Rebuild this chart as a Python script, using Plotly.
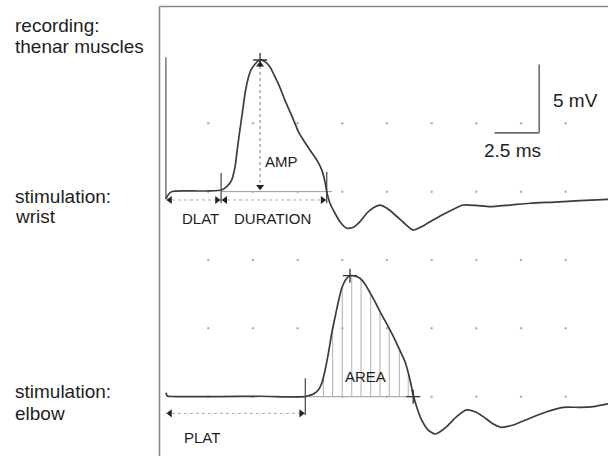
import numpy as np
import plotly.graph_objects as go

# ---------------- data (ms / mV) ----------------
grid_x_ms = [2.5, 5.0, 7.5, 10.0, 12.5, 15.0, 17.5, 20.0, 22.5]
grid_y_mV = [0, 5, 10, 15, 20]

WRIST_OFFSET = 15.0   # vertical display offset of wrist trace (mV)
ELBOW_OFFSET = 0.0

# stimulation at wrist (relative to its baseline)
wrist_ms = [0.13, 0.25, 0.47, 1.48, 2.60, 3.25, 3.53, 3.81, 4.00, 4.12,
            4.27, 4.43, 4.56, 4.71, 4.89, 5.12, 5.40, 5.67, 5.95, 6.23,
            6.51, 6.79, 7.07, 7.35, 7.54, 7.82, 8.19, 8.57, 8.85, 9.03,
            9.13, 9.31, 9.59, 9.87, 10.25, 10.62, 10.99, 11.37, 11.72, 12.11,
            12.48, 12.85, 13.40, 13.97, 14.52, 15.09, 15.91, 16.77, 17.48, 18.27,
            19.38, 20.50, 21.90, 23.30, 24.87]
wrist_mV = [-0.54, -0.24, 0.01, 0.05, 0.05, 0.12, 0.36, 0.85, 1.83, 3.05,
            4.51, 5.98, 7.19, 8.17, 8.90, 9.34, 9.63, 9.51, 9.14, 8.41,
            7.63, 6.70, 5.85, 5.00, 4.39, 3.78, 3.05, 2.32, 1.59, 0.73,
            0.00, -0.85, -1.58, -2.20, -2.68, -2.61, -2.20, -1.58, -1.20, -0.98,
            -1.20, -1.58, -2.22, -2.81, -2.51, -2.07, -1.49, -0.98, -1.01, -1.10,
            -0.98, -0.85, -0.76, -0.66, -0.56]
artifact_ms = [0.13, 0.13]
artifact_mV = [9.83, -0.54]

# stimulation at elbow
elbow_ms = [0.13, 0.21, 0.64, 3.16, 5.39, 7.07, 7.91, 8.10, 8.38, 8.66,
            8.85, 9.04, 9.22, 9.41, 9.60, 9.78, 9.97, 10.21, 10.43, 10.71,
            10.99, 11.27, 11.55, 11.83, 12.11, 12.39, 12.67, 12.95, 13.23, 13.51,
            13.75, 13.97, 14.16, 14.44, 14.81, 15.19, 15.47, 15.84, 16.40, 16.96,
            17.43, 17.89, 18.45, 18.92, 19.57, 20.50, 21.44, 22.37, 23.30, 24.05,
            24.87]
elbow_mV = [0.29, 0.05, 0.01, 0.01, 0.03, -0.02, 0.00, 0.07, 0.20, 0.49,
            0.98, 1.95, 3.17, 4.64, 5.85, 6.95, 7.93, 8.59, 8.85, 8.83,
            8.66, 8.24, 7.61, 6.95, 6.22, 5.56, 4.88, 4.15, 3.37, 2.56,
            1.46, 0.12, -0.73, -1.70, -2.44, -2.73, -2.56, -2.19, -1.46, -0.97,
            -1.10, -1.46, -2.00, -2.24, -2.07, -1.58, -1.10, -0.78, -0.78, -0.73,
            -0.53]

# measurements
stim_ms = 0.13
dlat_ms = 3.22
wrist_peak = (5.40, 9.63)
wrist_end_ms = 9.13
plat_ms = 7.93
elbow_peak = (10.43, 8.85)
elbow_end_ms = 13.97
area_hatch_ms = [8.94, 9.46, 10.00, 10.53, 11.05, 11.59, 12.11, 12.63, 13.19, 13.69]

scale_ms = 2.5
scale_mV = 5.0

# ---------------- figure ----------------
TRACE = "#3c3c3c"
FRAME = "#8a8a8a"
GUIDE = "#a8a8a8"
TXT = "#1e1e1e"
FONT = "Liberation Sans, Arial, sans-serif"

fig = go.Figure()

# dot grid
gx, gy = np.meshgrid(grid_x_ms, grid_y_mV)
fig.add_trace(go.Scatter(x=gx.ravel(), y=gy.ravel(), mode="markers",
                         marker=dict(size=2.5, color="#b4b4b4"), hoverinfo="skip"))

# area hatching (elbow)
hx, hy = [], []
for xv in area_hatch_ms:
    top = float(np.interp(xv, elbow_ms, elbow_mV))
    hx += [xv, xv, None]
    hy += [ELBOW_OFFSET, ELBOW_OFFSET + top, None]
fig.add_trace(go.Scatter(x=hx, y=hy, mode="lines",
                         line=dict(color="#b0b0b0", width=1), hoverinfo="skip"))

shapes = []
def seg(x0, y0, x1, y1, color=GUIDE, width=1, dash="solid"):
    shapes.append(dict(type="line", xref="x", yref="y", x0=x0, y0=y0, x1=x1, y1=y1,
                       line=dict(color=color, width=width, dash=dash), layer="below"))

# frame (top and left borders)
seg(-0.23, 28.54, 26, 28.54, FRAME, 1.6)
seg(-0.23, 28.54, -0.23, -5, FRAME, 1.6)

# baselines under the measured potentials
seg(dlat_ms, WRIST_OFFSET, wrist_end_ms + 0.3, WRIST_OFFSET, "#9a9a9a", 1)
seg(plat_ms, ELBOW_OFFSET, elbow_end_ms + 0.25, ELBOW_OFFSET, "#9a9a9a", 1)

# dotted measurement guides
arr_w = WRIST_OFFSET - 0.61
arr_e = ELBOW_OFFSET - 1.22
seg(stim_ms, arr_w, dlat_ms, arr_w, GUIDE, 1, "dot")
seg(dlat_ms, arr_w, wrist_end_ms, arr_w, GUIDE, 1, "dot")
seg(wrist_peak[0], WRIST_OFFSET + wrist_peak[1], wrist_peak[0], WRIST_OFFSET, "#7a7a7a", 1, "dot")
seg(stim_ms, arr_e, plat_ms, arr_e, GUIDE, 1, "dot")

# latency / end markers
seg(dlat_ms, WRIST_OFFSET + 1.37, dlat_ms, WRIST_OFFSET - 0.83, "#444", 1.2)
seg(wrist_end_ms, WRIST_OFFSET + 1.46, wrist_end_ms, WRIST_OFFSET - 0.85, "#444", 1.2)
seg(plat_ms, ELBOW_OFFSET + 1.35, plat_ms, ELBOW_OFFSET - 1.34, "#444", 1.2)

# scale bar
sb_x, sb_y = 21.02, 19.3
seg(sb_x, sb_y, sb_x, sb_y + scale_mV, "#6e6e6e", 1.6)
seg(sb_x - scale_ms, sb_y, sb_x, sb_y, "#6e6e6e", 1.6)

# traces
fig.add_trace(go.Scatter(x=artifact_ms, y=[v + WRIST_OFFSET for v in artifact_mV],
                         mode="lines", line=dict(color="#6a6a6a", width=1.4), hoverinfo="skip"))
fig.add_trace(go.Scatter(x=wrist_ms, y=[v + WRIST_OFFSET for v in wrist_mV], mode="lines",
                         line=dict(color=TRACE, width=1.7, shape="spline", smoothing=0.6),
                         hoverinfo="skip"))
fig.add_trace(go.Scatter(x=elbow_ms, y=[v + ELBOW_OFFSET for v in elbow_mV], mode="lines",
                         line=dict(color=TRACE, width=1.7, shape="spline", smoothing=0.6),
                         hoverinfo="skip"))

# cross markers at peaks / end
fig.add_trace(go.Scatter(
    x=[wrist_peak[0], elbow_peak[0], elbow_end_ms],
    y=[WRIST_OFFSET + wrist_peak[1], ELBOW_OFFSET + elbow_peak[1], ELBOW_OFFSET],
    mode="markers",
    marker=dict(symbol="cross-thin", size=10, line=dict(color="#333", width=1.3)),
    hoverinfo="skip"))

# arrowheads
ins = 0.23
ins_v = 0.35
ah_x = [stim_ms + ins, dlat_ms - ins, dlat_ms + ins, wrist_end_ms - ins,
        stim_ms + ins, plat_ms - ins]
ah_y = [arr_w, arr_w, arr_w, arr_w, arr_e, arr_e]
ah_s = ["triangle-left", "triangle-right", "triangle-left", "triangle-right",
        "triangle-left", "triangle-right"]
ah_x += [wrist_peak[0], wrist_peak[0]]
ah_y += [WRIST_OFFSET + wrist_peak[1] - ins_v, WRIST_OFFSET + ins_v]
ah_s += ["triangle-up", "triangle-down"]
fig.add_trace(go.Scatter(x=ah_x, y=ah_y, mode="markers",
                         marker=dict(symbol=ah_s, size=7, color="#222"), hoverinfo="skip"))

# text
ann = []
def txt(x, y, s, size, anchor="left"):
    ann.append(dict(x=x, y=y, xref="x", yref="y", text=s, showarrow=False,
                    xanchor=anchor, yanchor="middle",
                    font=dict(family=FONT, size=size, color=TXT)))

txt(-8.41, 27.18, "recording:", 19)
txt(-8.41, 25.60, "thenar muscles", 19)
txt(-8.41, 14.68, "stimulation:", 19)
txt(-8.41, 13.16, "wrist", 19)
txt(-8.41, 0.36, "stimulation:", 19)
txt(-8.41, -1.23, "elbow", 19)

txt(6.61, 17.21, "AMP", 15, "center")
txt(2.04, 13.02, "DLAT", 15, "center")
txt(6.10, 13.02, "DURATION", 15, "center")
txt(11.29, 1.49, "AREA", 15, "center")
txt(2.13, -3.02, "PLAT", 15, "center")
txt(21.68, 21.69, "5 mV", 19)
txt(19.55, 17.99, "2.5 ms", 19, "center")

fig.update_layout(
    width=608, height=456, margin=dict(l=0, r=0, t=0, b=0),
    paper_bgcolor="white", plot_bgcolor="white", showlegend=False,
    xaxis=dict(range=[-9.155, 24.87], visible=False, fixedrange=True),
    yaxis=dict(range=[-4.34, 29.02], visible=False, fixedrange=True),
    shapes=shapes, annotations=ann,
)
fig.write_html("out.html", config={"displayModeBar": False},
               post_script="document.body.style.margin='0';document.body.style.overflow='hidden';")
